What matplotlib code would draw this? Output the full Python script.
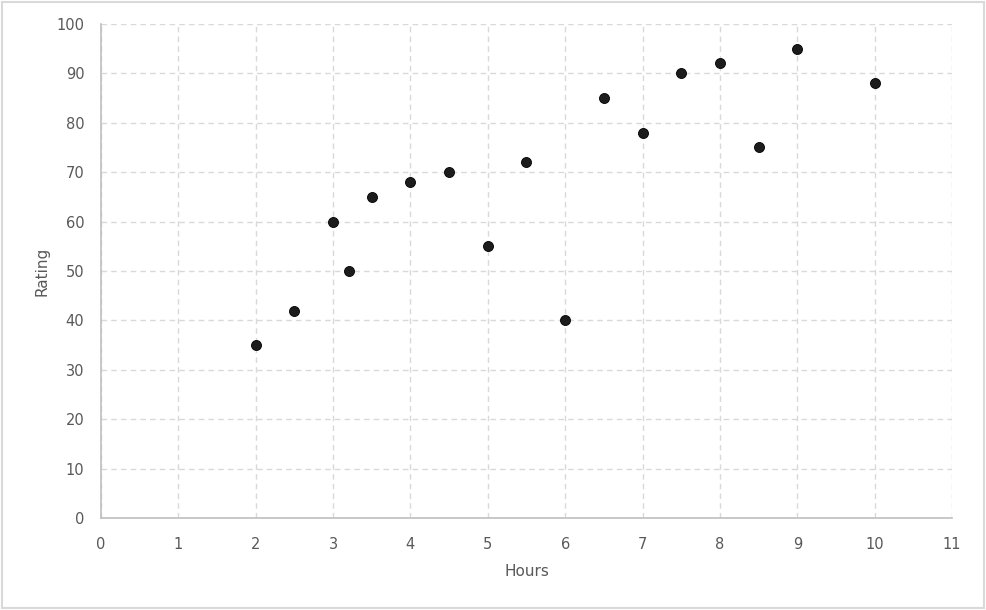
import matplotlib
matplotlib.use('Agg')
import matplotlib.pyplot as plt
from matplotlib.patches import Rectangle

hours = [2, 2.5, 3, 3.2, 3.5, 4, 4.5, 5, 5.5, 6, 6.5, 7, 7.5, 8, 8.5, 9, 10]
rating = [35, 42, 60, 50, 65, 68, 70, 55, 72, 40, 85, 78, 90, 92, 75, 95, 88]
x_ticks = list(range(0, 12))
y_ticks = list(range(0, 101, 10))

fig = plt.figure(figsize=(9.86, 6.10), dpi=100)
ax = fig.add_axes([0.1024, 0.1508, 0.8631, 0.8099])

# light border around the whole figure
fig.patches.append(Rectangle((0.002, 0.003), 0.996, 0.994, transform=fig.transFigure,
                             fill=False, edgecolor='#d9d9d9', linewidth=1.5))

ax.scatter(hours, rating, s=52, color='#1c1c1c', edgecolors='#000000', linewidths=0.6, zorder=3)

ax.set_xlim(0, 11)
ax.set_ylim(0, 100)
ax.set_xticks(x_ticks)
ax.set_yticks(y_ticks)
ax.grid(True, color='#d9d9d9', linestyle=(0, (4, 3)), linewidth=1)
ax.set_axisbelow(True)

for s in ['top', 'right']:
    ax.spines[s].set_visible(False)
for s in ['left', 'bottom']:
    ax.spines[s].set_color('#bfbfbf')
    ax.spines[s].set_linewidth(1.2)

ax.tick_params(length=0, labelsize=10.5, labelcolor='#595959')
ax.tick_params(axis='x', pad=14)
ax.tick_params(axis='y', pad=12)
ax.set_xlabel('Hours', fontsize=11, color='#595959', labelpad=8)
ax.set_ylabel('Rating', fontsize=11, color='#595959', labelpad=5)

fig.savefig('out.png', dpi=100)
